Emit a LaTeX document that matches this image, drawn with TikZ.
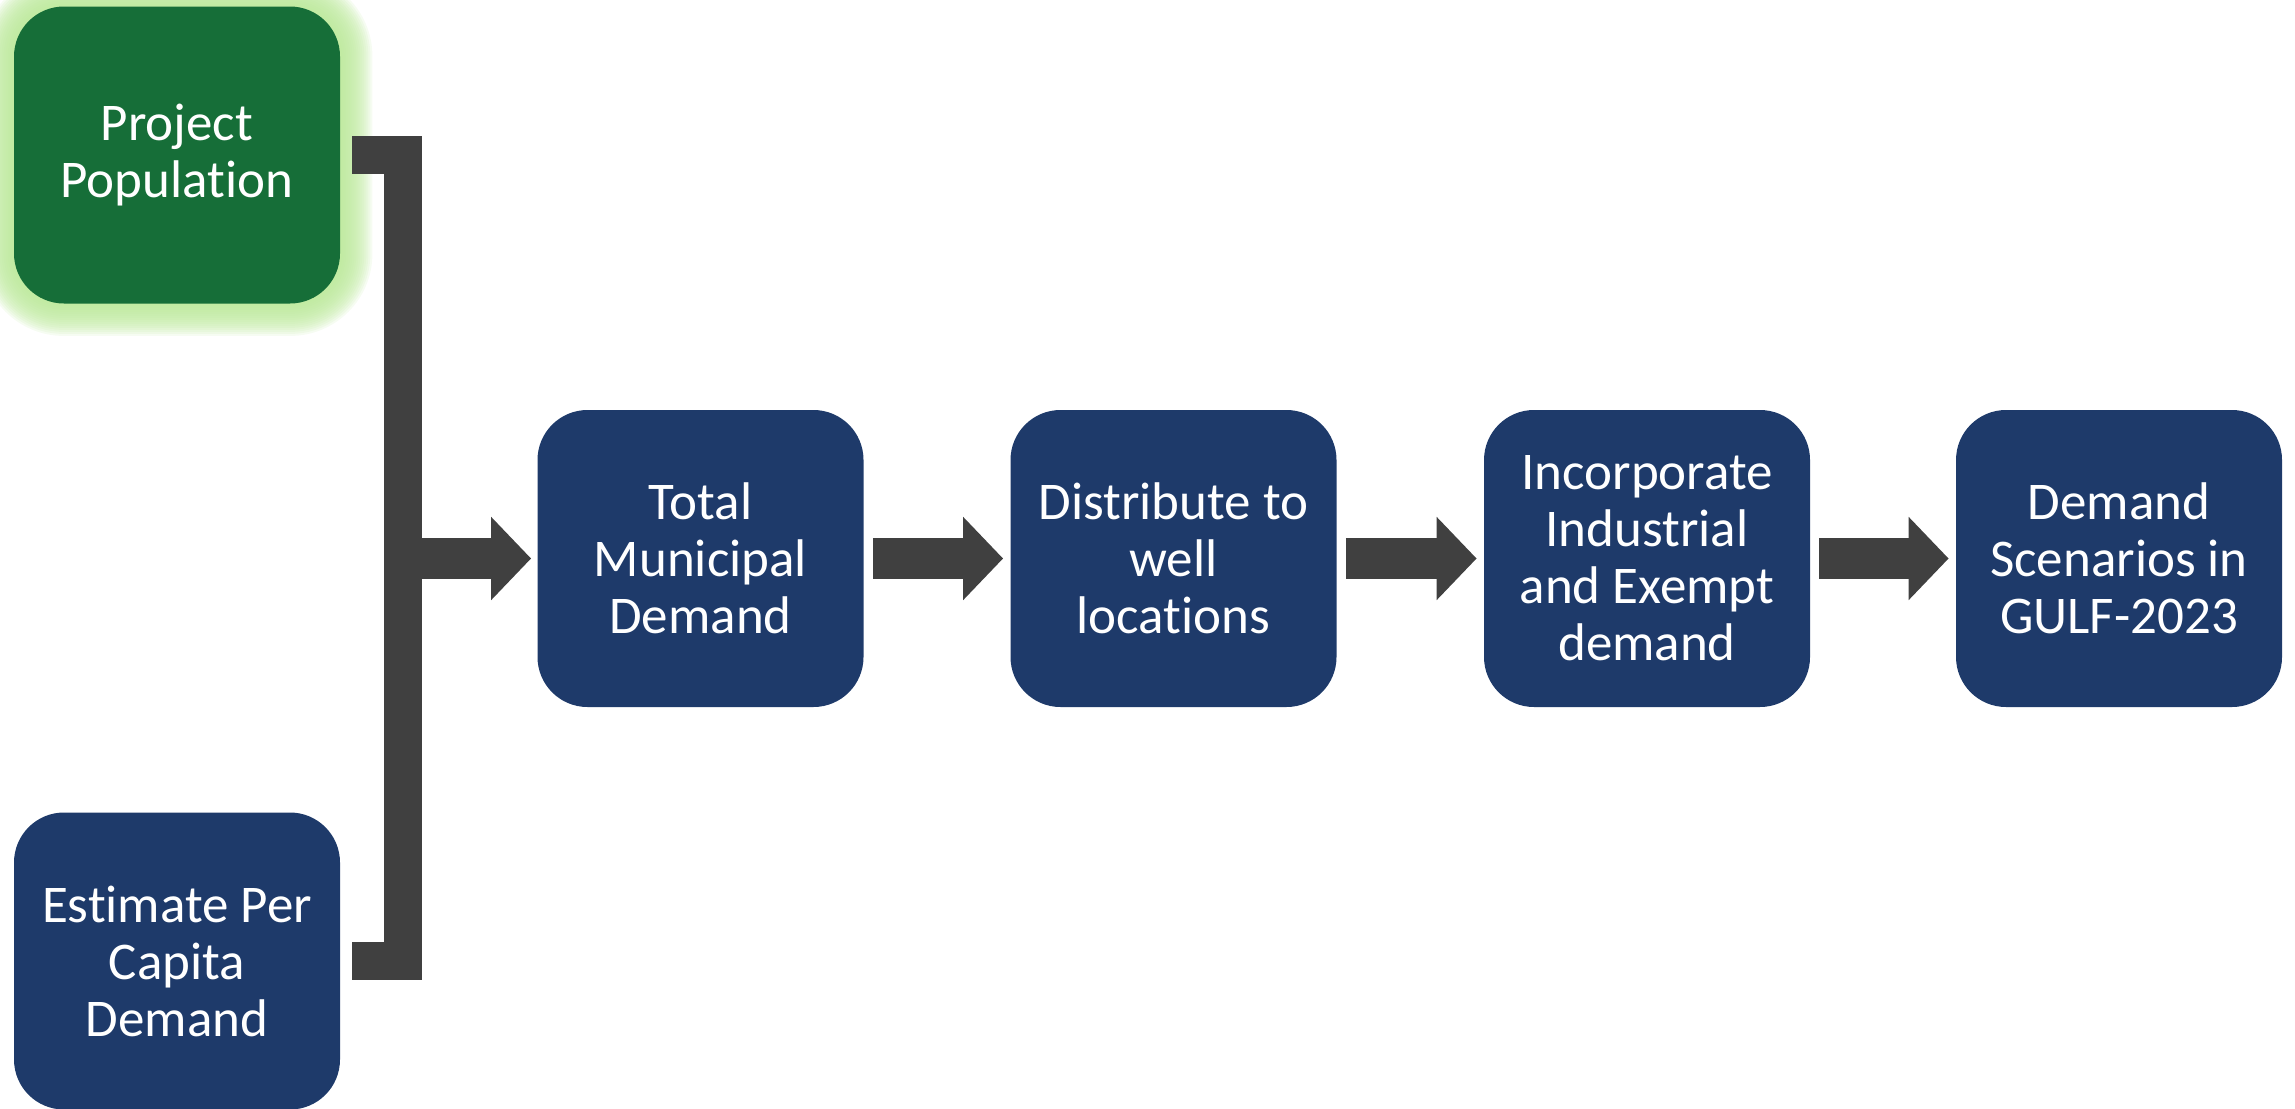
\documentclass[tikz,border=0pt]{standalone}
\usepackage{fontspec}
\setmainfont{Carlito}[Ligatures=NoCommon]
\usetikzlibrary{arrows.meta,calc,backgrounds}
\definecolor{stepblue}{RGB}{30,58,106}
\definecolor{stepgreen}{RGB}{22,110,56}
\definecolor{glowgreen}{RGB}{186,232,152}
\definecolor{flowgray}{RGB}{64,64,64}
\begin{document}
\begin{tikzpicture}[x=0.5pt,y=-0.5pt,
  stepbox/.style={fill=stepblue, text=white, rounded corners=25pt,
    minimum width=163pt, minimum height=148.5pt, align=center, inner sep=0pt,
    font=\fontsize{26.5}{28.5}\selectfont},
  startbox/.style={stepbox, fill=stepgreen},
  flow/.style={draw=flowgray, line width=20.5pt, -{Triangle[length=20pt,width=40.5pt]}},
  bracket/.style={draw=flowgray, line width=19pt, line join=miter}]
\useasboundingbox (0,0) rectangle (2295,1108);
\clip (0,0) rectangle (2295,1108);

% process steps
\node[startbox] (pop) at (177,155) {Project\\Population};
\node[stepbox]  (est) at (177,961) {Estimate Per\\Capita\\Demand};
\node[stepbox]  (tot) at (700.5,558.5) {Total\\Municipal\\Demand};
\node[stepbox]  (dist) at (1173.5,558.5) {Distribute to\\well\\locations};
\node[stepbox]  (inc) at (1647,558.5) {Incorporate\\Industrial\\and Exempt\\demand};
\node[stepbox]  (dem) at (2119,558.5) {Demand\\Scenarios in\\GULF-2023};

% soft glow around the starting step
\begin{scope}[on background layer]
\foreach \r in {32,30,...,2}{
  \pgfmathsetmacro\rc{25+0.5*\r}
  \fill[glowgreen, opacity=0.13, rounded corners=\rc pt]
    ($(pop.south west)+(-\r,\r)$) rectangle ($(pop.north east)+(\r,-\r)$);
}
\end{scope}

% bracket joining the two inputs
\coordinate (jn) at (402.5,558.5);
\draw[bracket] ([xshift=6pt]pop.east) -| (jn) |- ([xshift=6pt]est.east);
\draw[flow] (jn) -- ([xshift=-3pt]tot.west);

% chain of steps
\draw[flow] ([xshift=4.5pt]tot.east) -- ([xshift=-3.5pt]dist.west);
\draw[flow] ([xshift=4.5pt]dist.east) -- ([xshift=-3.5pt]inc.west);
\draw[flow] ([xshift=4.5pt]inc.east) -- ([xshift=-3.5pt]dem.west);
\end{tikzpicture}
\end{document}
